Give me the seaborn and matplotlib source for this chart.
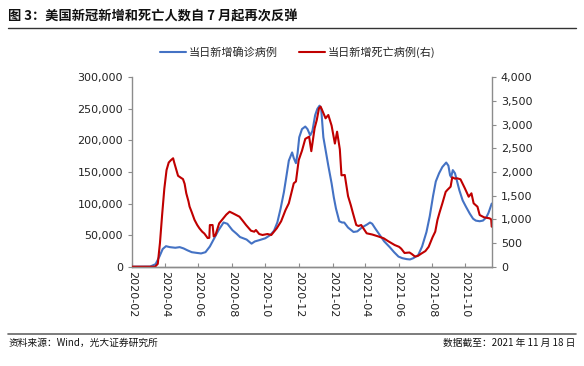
import pandas as pd
import matplotlib.pyplot as plt
import matplotlib.dates as mdates
import seaborn as sns
from matplotlib.lines import Line2D
from matplotlib.ticker import FuncFormatter, MultipleLocator

# ── DATA (7-day average) ─────────────────────────────────────────────────────
case_dates = [
    "2020-02-01", "2020-03-05", "2020-03-15", "2020-03-22", "2020-03-28",
    "2020-04-03", "2020-04-10", "2020-04-20", "2020-04-28", "2020-05-05",
    "2020-05-12", "2020-05-20", "2020-05-28", "2020-06-06", "2020-06-14",
    "2020-06-22", "2020-06-30", "2020-07-08", "2020-07-17", "2020-07-24",
    "2020-08-02", "2020-08-10", "2020-08-16", "2020-08-28", "2020-09-06",
    "2020-09-12", "2020-09-20", "2020-10-01", "2020-10-10", "2020-10-17",
    "2020-10-23", "2020-10-29", "2020-11-04", "2020-11-08", "2020-11-13",
    "2020-11-19", "2020-11-22", "2020-11-26", "2020-11-29", "2020-12-02",
    "2020-12-07", "2020-12-13", "2020-12-17", "2020-12-22", "2020-12-26",
    "2020-12-31", "2021-01-04", "2021-01-08", "2021-01-11", "2021-01-15",
    "2021-01-20", "2021-01-24", "2021-01-30", "2021-02-03", "2021-02-07",
    "2021-02-13", "2021-02-18", "2021-02-22", "2021-03-01", "2021-03-11",
    "2021-03-18", "2021-03-26", "2021-04-05", "2021-04-10", "2021-04-14",
    "2021-04-20", "2021-04-28", "2021-05-06", "2021-05-16", "2021-05-24",
    "2021-06-01", "2021-06-08", "2021-06-16", "2021-06-22", "2021-06-28",
    "2021-07-07", "2021-07-14", "2021-07-22", "2021-07-28", "2021-08-03",
    "2021-08-08", "2021-08-14", "2021-08-20", "2021-08-27", "2021-08-31",
    "2021-09-03", "2021-09-05", "2021-09-08", "2021-09-12", "2021-09-20",
    "2021-09-26", "2021-10-02", "2021-10-09", "2021-10-15", "2021-10-20",
    "2021-10-27", "2021-11-02", "2021-11-08", "2021-11-12", "2021-11-18",
]
case_vals = [
    0, 200, 4000, 16000, 28000,
    32500, 31000, 30000, 31000, 29000,
    26000, 23000, 22000, 21000, 23000,
    32000, 45000, 58000, 70000, 68000,
    58000, 52000, 47000, 43000, 36500,
    40000, 42000, 45000, 50000, 57000,
    70000, 92000, 118000, 140000, 168000,
    181000, 172000, 164000, 180000, 205000,
    218000, 222000, 218000, 208000, 215000,
    240000, 250000, 255000, 250000, 205000,
    180000, 160000, 132000, 110000, 92000,
    72000, 70000, 70000, 62000, 55000,
    56000, 62000, 67000, 70000, 68000,
    60000, 50000, 40000, 31000, 23000,
    16000, 13500, 12000, 11500, 13500,
    18500, 32000, 55000, 80000, 112000,
    135000, 148000, 158000, 165000, 160000,
    145000, 142000, 153000, 148000, 121000,
    105000, 95000, 84000, 76000, 73000,
    72000, 73000, 78000, 85000, 100000,
]

death_dates = [
    "2020-02-01", "2020-03-14", "2020-03-19", "2020-03-23", "2020-03-27",
    "2020-03-31", "2020-04-04", "2020-04-08", "2020-04-12", "2020-04-16",
    "2020-04-18", "2020-04-21", "2020-04-25", "2020-04-30", "2020-05-04",
    "2020-05-07", "2020-05-10", "2020-05-14", "2020-05-16", "2020-05-20",
    "2020-05-25", "2020-05-30", "2020-06-03", "2020-06-08", "2020-06-12",
    "2020-06-18", "2020-06-21", "2020-06-22", "2020-06-27", "2020-06-29",
    "2020-07-02", "2020-07-09", "2020-07-15", "2020-07-22", "2020-07-28",
    "2020-08-03", "2020-08-09", "2020-08-15", "2020-08-21", "2020-08-27",
    "2020-09-05", "2020-09-11", "2020-09-14", "2020-09-20", "2020-09-26",
    "2020-10-05", "2020-10-12", "2020-10-22", "2020-10-30", "2020-11-07",
    "2020-11-13", "2020-11-19", "2020-11-22", "2020-11-26", "2020-12-01",
    "2020-12-07", "2020-12-13", "2020-12-20", "2020-12-24", "2020-12-30",
    "2021-01-03", "2021-01-07", "2021-01-10", "2021-01-13", "2021-01-19",
    "2021-01-24", "2021-01-30", "2021-02-05", "2021-02-09", "2021-02-14",
    "2021-02-17", "2021-02-23", "2021-03-01", "2021-03-06", "2021-03-10",
    "2021-03-16", "2021-03-20", "2021-03-25", "2021-04-04", "2021-04-14",
    "2021-04-25", "2021-05-05", "2021-05-13", "2021-05-25", "2021-06-02",
    "2021-06-06", "2021-06-12", "2021-06-21", "2021-06-25", "2021-07-01",
    "2021-07-06", "2021-07-13", "2021-07-20", "2021-07-26", "2021-08-02",
    "2021-08-07", "2021-08-11", "2021-08-15", "2021-08-20", "2021-08-26",
    "2021-08-29", "2021-09-04", "2021-09-07", "2021-09-12", "2021-09-16",
    "2021-09-22", "2021-09-30", "2021-10-07", "2021-10-12", "2021-10-16",
    "2021-10-23", "2021-10-27", "2021-11-04", "2021-11-14", "2021-11-17",
    "2021-11-18",
]
death_vals = [
    0, 0, 60, 500, 1100,
    1650, 2040, 2200, 2250, 2290,
    2200, 2080, 1920, 1880, 1850,
    1750, 1550, 1380, 1270, 1150,
    990, 880, 810, 740, 700,
    605, 610, 880, 880, 640,
    660, 916, 1000, 1100, 1162,
    1128, 1092, 1056, 970, 880,
    760, 739, 775, 690, 670,
    690, 670, 811, 960, 1197,
    1339, 1620, 1761, 1800, 2250,
    2450, 2700, 2746, 2440, 2923,
    3100, 3345, 3380, 3300, 3134,
    3204, 2980, 2600, 2851, 2480,
    1930, 1937, 1490, 1300, 1128,
    880, 860, 880, 705, 680,
    640, 600, 540, 458, 420,
    380, 290, 300, 270, 215,
    226, 280, 330, 420, 620,
    740, 986, 1150, 1339, 1580,
    1620, 1690, 1888, 1860, 1867,
    1846, 1656, 1478, 1550, 1339,
    1267, 1092, 1043, 1022, 1000,
    845,
]

cases = pd.DataFrame({"date": pd.to_datetime(case_dates), "value": case_vals})
deaths = pd.DataFrame({"date": pd.to_datetime(death_dates), "value": death_vals})

# ── STYLE ─────────────────────────────────────────────────────────────────────
sns.set_style("ticks")
plt.rcParams["font.family"] = ["DejaVu Sans", "Noto Sans CJK SC"]
BLUE = "#4472C4"
RED = "#C00000"
AXIS_GRAY = "#8C8C8C"
CJK = ["Noto Sans CJK SC", "DejaVu Sans"]

fig = plt.figure(figsize=(5.84, 3.66), dpi=100)
ax = fig.add_axes([0.226, 0.2713, 0.616, 0.5175])
ax2 = ax.twinx()

sns.lineplot(data=cases, x="date", y="value", ax=ax, color=BLUE, lw=1.5)
sns.lineplot(data=deaths, x="date", y="value", ax=ax2, color=RED, lw=1.5)

ax.set_xlim(pd.Timestamp("2020-02-01"), pd.Timestamp("2021-11-18"))
ax.set_ylim(0, 300000)
ax2.set_ylim(0, 4000)
ax.yaxis.set_major_locator(MultipleLocator(50000))
ax2.yaxis.set_major_locator(MultipleLocator(500))
ax.yaxis.set_major_formatter(FuncFormatter(lambda v, p: f"{v:,.0f}"))
ax2.yaxis.set_major_formatter(FuncFormatter(lambda v, p: f"{v:,.0f}"))

ax.xaxis.set_major_locator(mdates.MonthLocator(bymonth=[2, 4, 6, 8, 10, 12]))
ax.xaxis.set_major_formatter(mdates.DateFormatter("%Y-%m"))
for lbl in ax.get_xticklabels():
    lbl.set_rotation(-90)
    lbl.set_va("top")
    lbl.set_ha("center")

for a in (ax, ax2):
    a.set_xlabel("")
    a.set_ylabel("")
    a.spines["top"].set_visible(False)
    for s in ("left", "right", "bottom"):
        a.spines[s].set_color(AXIS_GRAY)
        a.spines[s].set_linewidth(1.0)
    a.tick_params(axis="y", colors=AXIS_GRAY, labelcolor="#222222",
                  labelsize=8, length=3, width=0.8)
ax.tick_params(axis="x", direction="in", colors=AXIS_GRAY, labelcolor="#222222",
               labelsize=8, length=3, width=0.8, pad=3)
ax2.spines["left"].set_visible(False)
ax.spines["right"].set_visible(False)

# legend
handles = [Line2D([], [], color=BLUE, lw=1.5), Line2D([], [], color=RED, lw=1.5)]
fig.legend(handles, ["当日新增确诊病例", "当日新增死亡病例(右)"],
           loc="center", bbox_to_anchor=(0.51, 0.858), ncol=2, frameon=False,
           handlelength=2.3, handletextpad=0.3, columnspacing=1.9,
           prop={"family": CJK, "size": 8})

# title and footer
fig.text(0.014, 0.956, "图 3：美国新冠新增和死亡人数自 7 月起再次反弹",
         family=CJK, fontsize=9.5, fontweight="bold", ha="left", va="center",
         color="#111111")
fig.add_artist(Line2D([0.014, 0.986], [0.923, 0.923], color="#333333", lw=1.0))
fig.add_artist(Line2D([0.014, 0.986], [0.0875, 0.0875], color="#666666", lw=1.2))
fig.text(0.014, 0.063, "资料来源：Wind，光大证券研究所", family=CJK, fontsize=7,
         ha="left", va="center", color="#111111")
fig.text(0.986, 0.063, "数据截至：2021 年 11 月 18 日", family=CJK, fontsize=7,
         ha="right", va="center", color="#111111")

plt.savefig("out.png", dpi=100)
plt.close()
